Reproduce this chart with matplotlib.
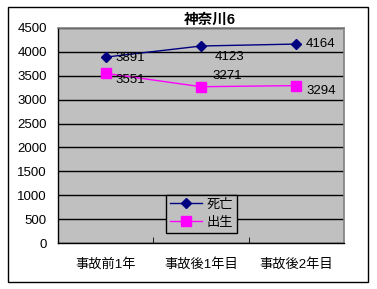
import matplotlib
matplotlib.use('Agg')
import matplotlib.pyplot as plt
from matplotlib.patches import Rectangle

plt.rcParams['font.family'] = ['Liberation Sans', 'Noto Sans CJK JP', 'DejaVu Sans']

title = '神奈川6'
categories = ['事故前1年', '事故後1年目', '事故後2年目']
deaths = [3891, 4123, 4164]
births = [3551, 3271, 3294]
death_label = '死亡'
birth_label = '出生'
yticks = list(range(0, 4501, 500))

# label offsets (points) for each data label
death_offsets = [(7, -1), (10, -8), (7, 0)]
birth_offsets = [(7, -5), (8, 8), (7, -4)]

fig = plt.figure(figsize=(3.77, 2.89), dpi=100)
fig.patch.set_facecolor('white')
fig.patches.append(Rectangle((8/377, 7/289), 360/377, 275/289, transform=fig.transFigure,
                             fill=False, edgecolor='black', linewidth=1))

ax = fig.add_axes([58/377, 1-243/289, 286/377, 215/289])
ax.set_facecolor('#C0C0C0')
x = list(range(len(categories)))

ax.plot(x, deaths, color='#000080', marker='D', markersize=5.5, linewidth=1, label=death_label)
ax.plot(x, births, color='#FF00FF', marker='s', markersize=6.5, linewidth=1, label=birth_label)

for i, v in enumerate(deaths):
    ax.annotate(str(v), (i, v), xytext=death_offsets[i], textcoords='offset points',
                ha='left', va='center', fontsize=9.5)
for i, v in enumerate(births):
    ax.annotate(str(v), (i, v), xytext=birth_offsets[i], textcoords='offset points',
                ha='left', va='center', fontsize=9.5)

ax.set_xlim(-0.5, 2.5)
ax.set_ylim(0, 4500)
ax.set_yticks(yticks)
ax.tick_params(axis='y', length=0, labelsize=9.5, pad=8)
ax.set_xticks(x)
ax.set_xticklabels(categories)
ax.tick_params(axis='x', length=0, labelsize=9.5, pad=11)
ax.set_xticks([0.5, 1.5], minor=True)
ax.tick_params(axis='x', which='minor', direction='in', length=4, color='black')
ax.grid(axis='y', color='black', linewidth=1)
ax.set_axisbelow(True)

for s in ['left', 'bottom']:
    ax.spines[s].set_color('black')
    ax.spines[s].set_linewidth(1)
for s in ['top', 'right']:
    ax.spines[s].set_color('#808080')
    ax.spines[s].set_linewidth(1.2)

ax.set_title(title, fontsize=10.5, fontweight='bold', pad=3, x=0.53)

leg = ax.legend(loc='lower left', bbox_to_anchor=(108/286, 10/215), frameon=True,
                fancybox=False, edgecolor='black', facecolor='#C0C0C0', framealpha=1,
                fontsize=9.5, handlelength=2.4, borderpad=0.3, labelspacing=0.45,
                handletextpad=0.4, borderaxespad=0)
leg.get_frame().set_linewidth(1)

fig.savefig('out.png', dpi=100)
